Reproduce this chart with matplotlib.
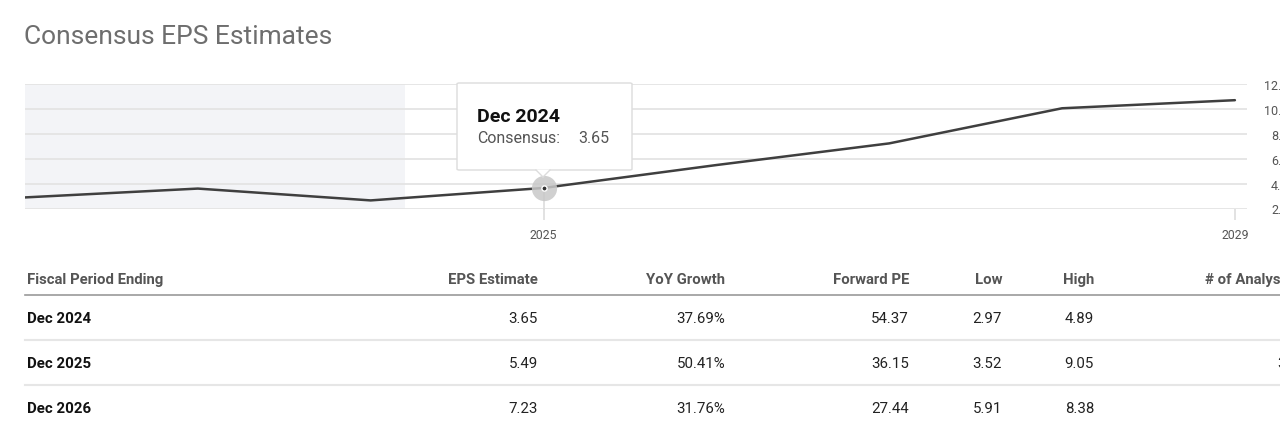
import matplotlib.pyplot as plt
from matplotlib.patches import FancyBboxPatch, Polygon
from matplotlib.lines import Line2D

plt.rcParams['font.family'] = ['Roboto', 'DejaVu Sans']

# chart data: EPS by fiscal period (Dec YYYY plotted at the start of YYYY+1)
periods = ["Dec 2021", "Dec 2022", "Dec 2023", "Dec 2024", "Dec 2025", "Dec 2026", "Dec 2027", "Dec 2028"]
x_pos = [2022, 2023, 2024, 2025, 2026, 2027, 2028, 2029]
eps = [2.89, 3.60, 2.65, 3.65, 5.49, 7.23, 10.05, 10.70]
yticks = [2, 4, 6, 8, 10, 12]
xticks = [2025, 2029]
hist_end = 2024.2
hover = 3  # index of the highlighted point

# table data
headers = ["Fiscal Period Ending", "EPS Estimate", "YoY Growth", "Forward PE", "Low", "High", "# of Analysts"]
row_periods = ["Dec 2024", "Dec 2025", "Dec 2026"]
eps_est = ["3.65", "5.49", "7.23"]
yoy = ["37.69%", "50.41%", "31.76%"]
fwd_pe = ["54.37", "36.15", "27.44"]
low = ["2.97", "3.52", "5.91"]
high = ["4.89", "9.05", "8.38"]
analysts = ["", "3", ""]

W, H = 1280, 431
fig = plt.figure(figsize=(W / 100, H / 100), dpi=100)


def fx(x):
    return x / W


def fy(y):
    return 1 - y / H


fig.text(fx(24), fy(37), "Consensus EPS Estimates", fontsize=19, color="#6e6e6e",
         va="center", ha="left")

ax = fig.add_axes([fx(25), fy(209.5), (1247 - 25) / W, (209.5 - 85) / H])
ax.set_xlim(2022, 2029.07)
ax.set_ylim(2, 12)
ax.axvspan(2022, hist_end, color="#f3f4f7", zorder=0, lw=0)
for v in yticks:
    ax.axhline(v, color="#e4e4e4", lw=1.3, zorder=1)
ax.plot(x_pos, eps, color="#3f3f3f", lw=1.8, zorder=3, solid_capstyle="round")

for s in ax.spines.values():
    s.set_visible(False)
ax.set_yticks(yticks)
ax.set_yticklabels([f"{v:.2f}" for v in yticks])
ax.yaxis.tick_right()
ax.tick_params(axis="y", length=0, pad=35, labelsize=9, labelcolor="#555555")
for lab in ax.get_yticklabels():
    lab.set_horizontalalignment("right")
ax.set_xticks(xticks)
ax.set_xticklabels([str(v) for v in xticks])
ax.tick_params(axis="x", length=8, width=1.2, color="#dddddd", pad=6,
               labelsize=8.8, labelcolor="#555555")

# hover crosshair + marker
hx, hy = x_pos[hover], eps[hover]
ax.plot([hx, hx], [2, hy], color="#dddddd", lw=1.2, zorder=2, clip_on=False)
ax.scatter([hx], [hy], s=330, color="#c8c8c8", alpha=0.85, zorder=4, lw=0)
ax.scatter([hx], [hy], s=14, color="#333333", edgecolor="white", lw=1.0, zorder=5)

# tooltip box
bx0, by0, bx1, by1 = 457, 84, 632, 171
box = FancyBboxPatch((fx(bx0), fy(by1)), fx(bx1 - bx0), (by1 - by0) / H,
                     boxstyle="round,pad=0,rounding_size=0.002",
                     transform=fig.transFigure, facecolor="white",
                     edgecolor="#dcdcdc", lw=1.0, zorder=10)
fig.add_artist(box)
tip = Polygon([(fx(536), fy(170.5)), (fx(543), fy(178)), (fx(550), fy(170.5))],
              closed=True, transform=fig.transFigure, facecolor="white",
              edgecolor="none", zorder=11)
fig.add_artist(tip)
for seg in [[(536, 171), (543, 178)], [(543, 178), (550, 171)]]:
    fig.add_artist(Line2D([fx(seg[0][0]), fx(seg[1][0])], [fy(seg[0][1]), fy(seg[1][1])],
                          transform=fig.transFigure, color="#dcdcdc", lw=1.0, zorder=12))
fig.text(fx(477), fy(117), periods[hover], fontsize=14, fontweight="bold",
         color="#111111", va="center", zorder=13)
fig.text(fx(477), fy(139), "Consensus:", fontsize=11.5, color="#555555", va="center", zorder=13)
fig.text(fx(578), fy(139), f"{eps[hover]:.2f}", fontsize=11.5, color="#555555", va="center", zorder=13)

# table
col_x = [27, 538, 725, 909, 1002, 1094, 1205]
col_ha = ["left", "right", "right", "right", "right", "right", "left"]
head_y = 280
row_y = [319, 364, 409]
for x, ha, h in zip(col_x, col_ha, headers):
    fig.text(fx(x), fy(head_y), h, fontsize=10.7, fontweight="bold", color="#555555",
             ha=ha, va="center")
fig.add_artist(Line2D([fx(25), 1], [fy(296), fy(296)], transform=fig.transFigure,
                      color="#9a9a9a", lw=1.2))
for y in [341, 386]:
    fig.add_artist(Line2D([fx(25), 1], [fy(y), fy(y)], transform=fig.transFigure,
                          color="#e6e6e6", lw=1.5))
cols = [eps_est, yoy, fwd_pe, low, high]
for i, y in enumerate(row_y):
    fig.text(fx(27), fy(y + 0.5), row_periods[i], fontsize=10.8, fontweight="bold",
             color="#111111", ha="left", va="center")
    for x, col in zip(col_x[1:6], cols):
        fig.text(fx(x), fy(y + 0.5), col[i], fontsize=10.8, color="#222222", ha="right", va="center")
    if analysts[i]:
        fig.text(fx(1277), fy(y + 0.5), analysts[i], fontsize=10.8, color="#222222",
                 ha="left", va="center")

fig.savefig("out.png", dpi=100, facecolor="white")
